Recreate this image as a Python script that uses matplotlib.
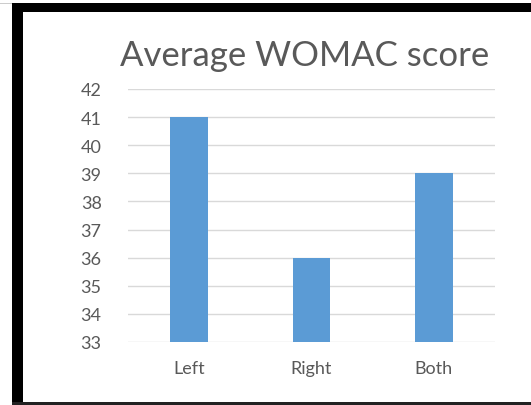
import matplotlib
matplotlib.use('Agg')
import matplotlib.pyplot as plt
from matplotlib.patches import Rectangle

categories = ['Left', 'Right', 'Both']
scores = [41, 36, 39]
yticks = [33, 34, 35, 36, 37, 38, 39, 40, 41, 42]

W, H = 531, 406
plt.rcParams['font.family'] = ['Lato', 'DejaVu Sans']

fig = plt.figure(figsize=(W / 100, H / 100), dpi=100)
fig.patch.set_facecolor('white')

# black frame (left, top, bottom)
def px_rect(x0, y0, x1, y1, color):
    fig.add_artist(Rectangle((x0 / W, 1 - y1 / H), (x1 - x0) / W, (y1 - y0) / H,
                             transform=fig.transFigure, color=color, lw=0, zorder=10))

px_rect(0, 3.5, 12, 4.5, '#cccccc')
px_rect(12, 4, W, 13, 'black')
px_rect(12, 4, 23, 406, 'black')
px_rect(12, 403, W, 406, '#222222')

ax = fig.add_axes([128 / W, 1 - 343 / H, (495 - 128) / W, (343 - 90) / H])
x = range(len(categories))
ax.bar(x, scores, width=0.31, color='#5B9BD5', zorder=3)
ax.set_ylim(33, 42)
ax.set_xlim(-0.5, 2.5)
ax.set_yticks(yticks)
ax.set_xticks(list(x))
ax.set_xticklabels(categories)
ax.grid(axis='y', color='#d9d9d9', lw=1, zorder=0)
for s in ax.spines.values():
    s.set_visible(False)
ax.tick_params(length=0, colors='#595959', labelsize=13)
ax.tick_params(axis='y', pad=19)
ax.tick_params(axis='x', pad=13)

fig.text(305 / W, 1 - 56 / H, 'Average WOMAC score', ha='center', va='center',
         fontsize=25, color='#595959')

fig.savefig('out.png', dpi=100)
